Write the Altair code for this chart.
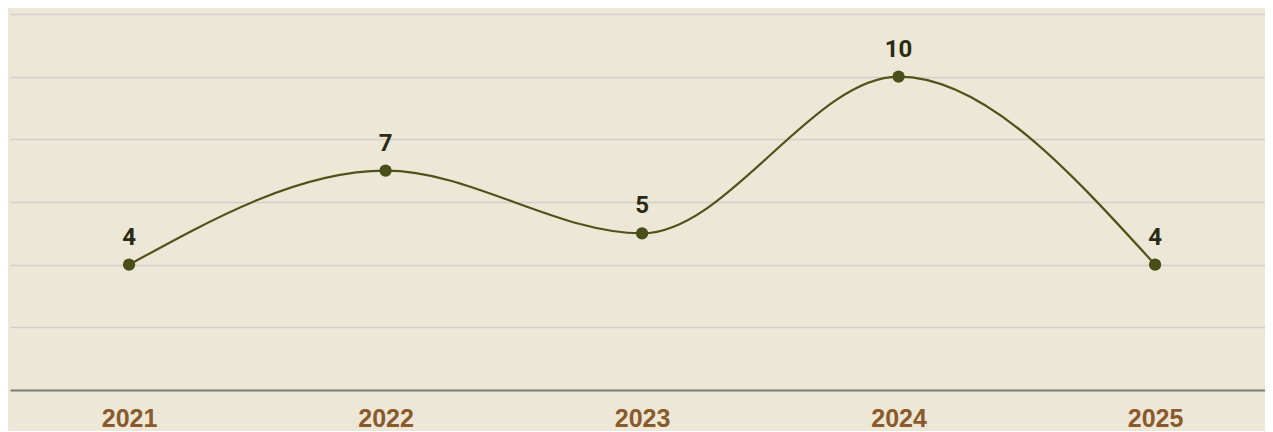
import altair as alt
import pandas as pd

years = ["2021", "2022", "2023", "2024", "2025"]
values = [4, 7, 5, 10, 4]

df = pd.DataFrame({"year": years, "value": values})

BG = "#EDE7D7"
LINE = "#4E5419"
POINT = "#4A4F19"
LABEL = "#2A2B12"
YEAR = "#8B5A2B"

x = alt.X(
    "year:N",
    sort=years,
    scale=alt.Scale(type="point", padding=0.4464, align=0.52),
    axis=alt.Axis(
        title=None,
        labelAngle=0,
        labelFont="Liberation Sans",
        labelFontWeight="bold",
        labelFontSize=25,
        labelColor=YEAR,
        labelBaseline="top",
        labelPadding=16,
        ticks=False,
        domain=True,
        domainColor="#7A7A72",
        domainWidth=2,
        grid=False,
    ),
)
y = alt.Y(
    "value:Q",
    scale=alt.Scale(domain=[0, 12], nice=False),
    axis=alt.Axis(
        title=None,
        labels=False,
        ticks=False,
        domain=False,
        values=[2, 4, 6, 8, 10, 12],
        grid=True,
        gridColor="#D0CFCB",
        gridWidth=1.5,
    ),
)

base = alt.Chart(df)

line = base.mark_line(interpolate="monotone", color=LINE, strokeWidth=2.2).encode(x=x, y=y)
points = base.mark_circle(size=150, color=POINT, opacity=1).encode(x=x, y=y)
labels = base.mark_text(
    dy=-27, font="Roboto", fontWeight="bold", fontSize=24, color=LABEL, baseline="middle"
).encode(x=x, y=y, text="value:Q")

chart = (
    alt.layer(line, points, labels)
    .properties(width=1255, height=376, padding={"left": 2, "top": 6, "right": 0, "bottom": 0}, background=BG)
    .configure_view(stroke=None)
)

chart.save("out.html", embed_options={"renderer": "svg", "actions": False})
